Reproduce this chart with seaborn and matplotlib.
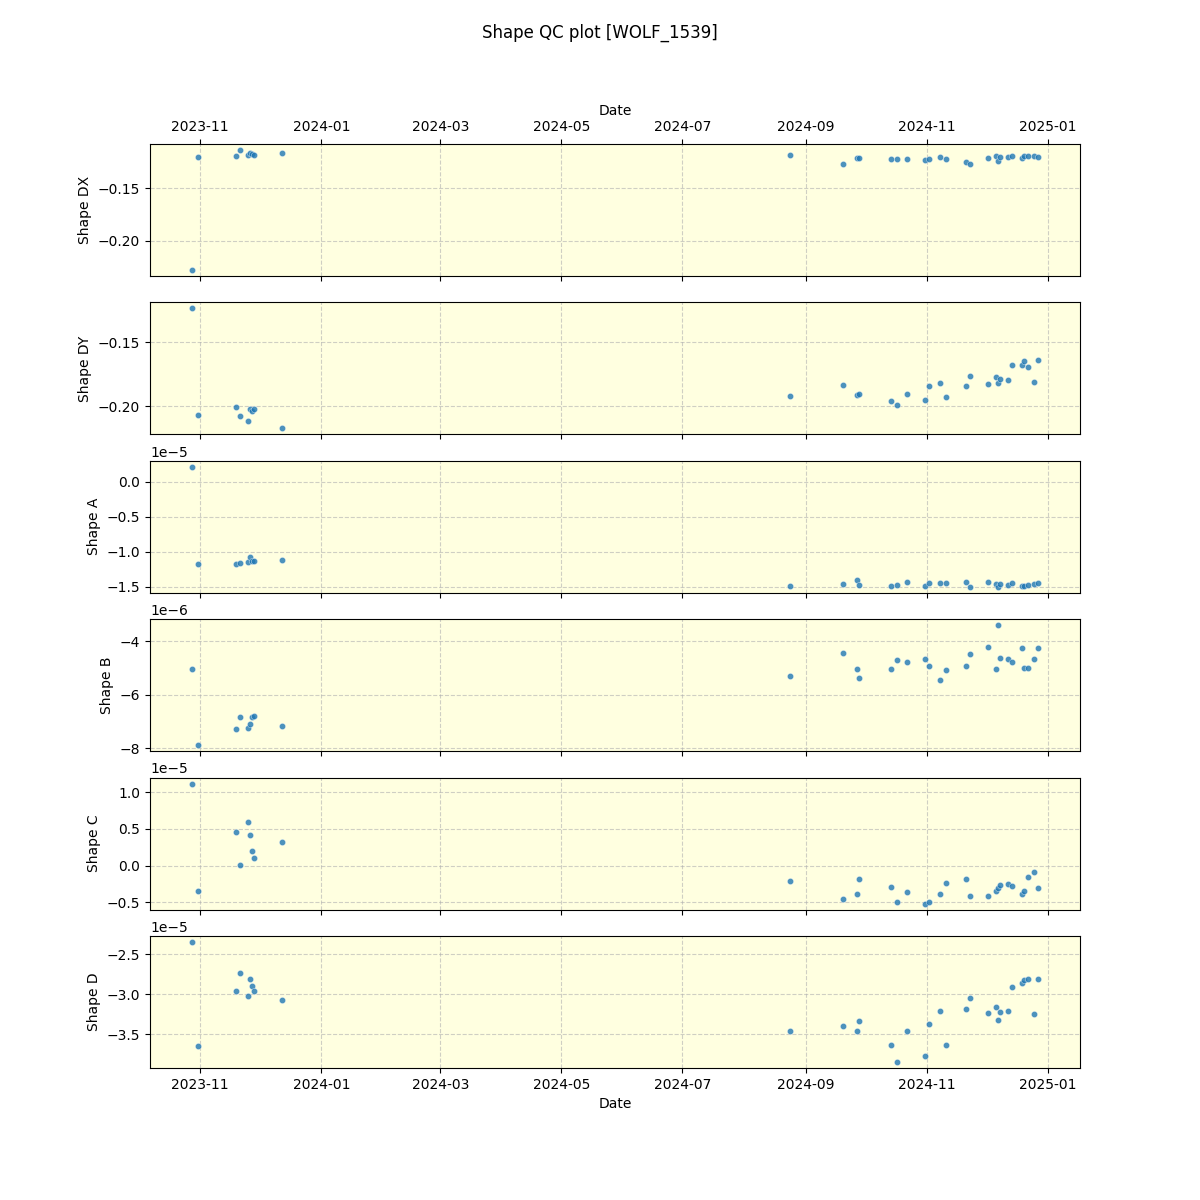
import matplotlib
matplotlib.use("Agg")
import matplotlib.pyplot as plt
import matplotlib.dates as mdates
import seaborn as sns
import pandas as pd

dates = [
    "2023-10-28", "2023-10-31", "2023-11-19", "2023-11-21", "2023-11-25",
    "2023-11-26", "2023-11-27", "2023-11-28", "2023-12-12",
    "2024-08-24", "2024-09-20", "2024-09-27", "2024-09-28", "2024-10-14",
    "2024-10-17", "2024-10-22", "2024-10-31", "2024-11-02", "2024-11-08",
    "2024-11-11", "2024-11-21", "2024-11-23", "2024-12-02", "2024-12-06",
    "2024-12-07", "2024-12-08", "2024-12-12", "2024-12-14", "2024-12-19",
    "2024-12-20", "2024-12-22", "2024-12-25", "2024-12-27",
]

shape_dx = [
    -0.2278, -0.1206, -0.1196, -0.1139, -0.1184, -0.1165, -0.1181, -0.1187, -0.1168,
    -0.1187, -0.1272, -0.1215, -0.1215, -0.1225, -0.1225, -0.1225, -0.1234, -0.1225,
    -0.1206, -0.1225, -0.1253, -0.1272, -0.1215, -0.1196, -0.1244, -0.1206, -0.1206,
    -0.1196, -0.1215, -0.1196, -0.1196, -0.1196, -0.1206,
]

shape_dy = [
    -0.1238, -0.2067, -0.2008, -0.2078, -0.2117, -0.2023, -0.2039, -0.2023, -0.2171,
    -0.1922, -0.1837, -0.1915, -0.1907, -0.1961, -0.1992, -0.1907, -0.1953, -0.1845,
    -0.1821, -0.1930, -0.1845, -0.1767, -0.1829, -0.1775, -0.1821, -0.1790, -0.1798,
    -0.1681, -0.1681, -0.1650, -0.1697, -0.1813, -0.1642,
]

shape_a = [
    0.214e-5, -1.171e-5, -1.171e-5, -1.157e-5, -1.143e-5, -1.071e-5, -1.129e-5, -1.129e-5, -1.114e-5,
    -1.486e-5, -1.457e-5, -1.400e-5, -1.471e-5, -1.486e-5, -1.471e-5, -1.429e-5, -1.486e-5, -1.443e-5,
    -1.443e-5, -1.443e-5, -1.429e-5, -1.500e-5, -1.429e-5, -1.457e-5, -1.500e-5, -1.457e-5, -1.471e-5,
    -1.443e-5, -1.486e-5, -1.486e-5, -1.471e-5, -1.457e-5, -1.443e-5,
]

shape_b = [
    -5.047e-6, -7.888e-6, -7.290e-6, -6.841e-6, -7.252e-6, -7.103e-6, -6.841e-6, -6.804e-6, -7.178e-6,
    -5.308e-6, -4.449e-6, -5.047e-6, -5.383e-6, -5.047e-6, -4.710e-6, -4.785e-6, -4.673e-6, -4.935e-6,
    -5.458e-6, -5.084e-6, -4.935e-6, -4.486e-6, -4.224e-6, -5.047e-6, -3.402e-6, -4.636e-6, -4.673e-6,
    -4.785e-6, -4.262e-6, -5.009e-6, -5.009e-6, -4.673e-6, -4.262e-6,
]

shape_c = [
    1.118e-5, -0.341e-5, 0.464e-5, 0.014e-5, 0.600e-5, 0.423e-5, 0.205e-5, 0.109e-5, 0.327e-5,
    -0.205e-5, -0.450e-5, -0.382e-5, -0.177e-5, -0.286e-5, -0.491e-5, -0.355e-5, -0.518e-5, -0.491e-5,
    -0.382e-5, -0.232e-5, -0.177e-5, -0.409e-5, -0.409e-5, -0.341e-5, -0.300e-5, -0.259e-5, -0.245e-5,
    -0.273e-5, -0.382e-5, -0.341e-5, -0.150e-5, -0.082e-5, -0.300e-5,
]

shape_d = [
    -2.350e-5, -3.650e-5, -2.963e-5, -2.738e-5, -3.025e-5, -2.813e-5, -2.900e-5, -2.963e-5, -3.075e-5,
    -3.463e-5, -3.400e-5, -3.463e-5, -3.338e-5, -3.638e-5, -3.850e-5, -3.463e-5, -3.775e-5, -3.375e-5,
    -3.213e-5, -3.638e-5, -3.188e-5, -3.050e-5, -3.238e-5, -3.163e-5, -3.325e-5, -3.225e-5, -3.213e-5,
    -2.913e-5, -2.863e-5, -2.825e-5, -2.813e-5, -3.250e-5, -2.813e-5,
]

df = pd.DataFrame({
    "Date": pd.to_datetime(dates),
    "Shape DX": shape_dx,
    "Shape DY": shape_dy,
    "Shape A": shape_a,
    "Shape B": shape_b,
    "Shape C": shape_c,
    "Shape D": shape_d,
})

cols = ["Shape DX", "Shape DY", "Shape A", "Shape B", "Shape C", "Shape D"]

fig, axes = plt.subplots(6, 1, figsize=(12, 12), dpi=100, sharex=True)
for ax, col in zip(axes, cols):
    ax.set_facecolor("lightyellow")
    sns.scatterplot(data=df, x="Date", y=col, ax=ax, s=20, alpha=0.8,
                    color="#1f77b4", edgecolor="white", linewidth=0.3)
    ax.grid(True, linestyle="--", color="#b0b0b0", alpha=0.6)
    ax.set_axisbelow(True)
    ax.set_ylabel(col)
    ax.set_xlabel("")

axes[0].tick_params(axis="x", top=True, labeltop=True)
axes[0].xaxis.set_label_position("top")
axes[0].set_xlabel("Date")
axes[0].xaxis.label.set_visible(True)
axes[-1].set_xlabel("Date")
axes[-1].xaxis.set_major_locator(mdates.MonthLocator(bymonth=[1, 3, 5, 7, 9, 11]))
axes[-1].xaxis.set_major_formatter(mdates.DateFormatter("%Y-%m"))

fig.suptitle("Shape QC plot [WOLF_1539]")
fig.savefig("out.png", dpi=100)
